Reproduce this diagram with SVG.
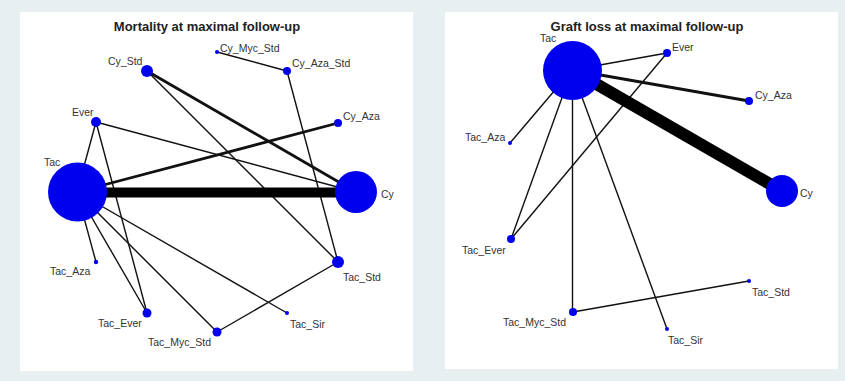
<svg xmlns="http://www.w3.org/2000/svg" width="845" height="381" viewBox="0 0 845 381">
  <style>
    .panel { fill: #ffffff; }
    .title { font-family: "Liberation Sans", Arial, sans-serif; font-size: 13px; font-weight: bold; fill: #222; text-anchor: middle; }
    .lbl { font-family: "Liberation Sans", Arial, sans-serif; font-size: 10.5px; fill: #333; }
    .node { fill: #0000ee; }
    .e { stroke: #111; fill: none; stroke-width: 1.4; }
    .e2 { stroke: #111; fill: none; stroke-width: 2.8; }
  </style>
  <rect width="845" height="381" fill="#e8eff1"/>

  <!-- Left network: mortality -->
  <rect class="panel" x="20" y="12" width="393" height="359"/>
  <text class="title" x="207" y="31">Mortality at maximal follow-up</text>
  <g id="mortality-edges">
    <line class="e" x1="96" y1="122" x2="77" y2="192"/>
    <line class="e" x1="96" y1="122" x2="356" y2="192"/>
    <line class="e" x1="96" y1="122" x2="147" y2="313"/>
    <line class="e2" x1="147" y1="71" x2="356" y2="192"/>
    <line class="e" x1="147" y1="71" x2="338" y2="262"/>
    <line class="e" x1="217" y1="52" x2="287" y2="71"/>
    <line class="e" x1="287" y1="71" x2="338" y2="262"/>
    <line class="e2" x1="77" y1="192" x2="338" y2="123"/>
    <line class="e" x1="77" y1="192" x2="96" y2="262"/>
    <line class="e" x1="77" y1="192" x2="147" y2="313"/>
    <line class="e" x1="77" y1="192" x2="217" y2="332"/>
    <line class="e" x1="77" y1="192" x2="287" y2="313"/>
    <line class="e" x1="217" y1="332" x2="338" y2="262"/>
    <line stroke="#000" stroke-width="10" x1="77" y1="192.5" x2="356" y2="192.5"/>
  </g>
  <g id="m-Tac"><circle class="node" cx="77.5" cy="192" r="29.5"/><text class="lbl" x="44" y="166">Tac</text></g>
  <g id="m-Cy"><circle class="node" cx="356" cy="192" r="21"/><text class="lbl" x="381" y="198">Cy</text></g>
  <g id="m-Cy_Std"><circle class="node" cx="147" cy="71" r="6"/><text class="lbl" x="108" y="65">Cy_Std</text></g>
  <g id="m-Cy_Myc_Std"><circle class="node" cx="217" cy="52" r="2"/><text class="lbl" x="220" y="52">Cy_Myc_Std</text></g>
  <g id="m-Cy_Aza_Std"><circle class="node" cx="287" cy="71" r="4"/><text class="lbl" x="292" y="67">Cy_Aza_Std</text></g>
  <g id="m-Cy_Aza"><circle class="node" cx="338" cy="123" r="4"/><text class="lbl" x="343" y="120">Cy_Aza</text></g>
  <g id="m-Ever"><circle class="node" cx="96" cy="122" r="5"/><text class="lbl" x="72" y="116">Ever</text></g>
  <g id="m-Tac_Aza"><circle class="node" cx="96" cy="262" r="2.2"/><text class="lbl" x="50" y="275">Tac_Aza</text></g>
  <g id="m-Tac_Std"><circle class="node" cx="338" cy="262" r="6"/><text class="lbl" x="343" y="281">Tac_Std</text></g>
  <g id="m-Tac_Ever"><circle class="node" cx="147" cy="313" r="4.5"/><text class="lbl" x="98" y="327">Tac_Ever</text></g>
  <g id="m-Tac_Myc_Std"><circle class="node" cx="217" cy="332" r="4.5"/><text class="lbl" x="148" y="346">Tac_Myc_Std</text></g>
  <g id="m-Tac_Sir"><circle class="node" cx="287" cy="313" r="2"/><text class="lbl" x="290" y="328">Tac_Sir</text></g>

  <!-- Right network: graft loss -->
  <rect class="panel" x="445" y="12" width="393" height="357"/>
  <text class="title" x="647" y="31">Graft loss at maximal follow-up</text>
  <g id="graft-edges">
    <line class="e" x1="572" y1="70" x2="667" y2="53"/>
    <line class="e2" x1="572" y1="70" x2="749" y2="101"/>
    <line class="e" x1="572" y1="70" x2="510" y2="143"/>
    <line class="e" x1="572" y1="70" x2="511" y2="239"/>
    <line class="e" x1="572.5" y1="70" x2="572.5" y2="312"/>
    <line class="e" x1="572" y1="70" x2="667" y2="329"/>
    <line class="e" x1="667" y1="53" x2="511" y2="239"/>
    <line class="e" x1="573" y1="312" x2="749" y2="281"/>
    <line stroke="#000" stroke-width="12" x1="572" y1="70" x2="782" y2="191"/>
  </g>
  <g id="g-Tac"><circle class="node" cx="572.5" cy="70.5" r="29.5"/><text class="lbl" x="540" y="42">Tac</text></g>
  <g id="g-Ever"><circle class="node" cx="667" cy="53" r="4"/><text class="lbl" x="672" y="51">Ever</text></g>
  <g id="g-Cy_Aza"><circle class="node" cx="749" cy="101" r="4"/><text class="lbl" x="755" y="99">Cy_Aza</text></g>
  <g id="g-Tac_Aza"><circle class="node" cx="510" cy="143" r="2"/><text class="lbl" x="465" y="141">Tac_Aza</text></g>
  <g id="g-Cy"><circle class="node" cx="782" cy="191" r="16"/><text class="lbl" x="800" y="197">Cy</text></g>
  <g id="g-Tac_Ever"><circle class="node" cx="511" cy="239" r="4"/><text class="lbl" x="462" y="254">Tac_Ever</text></g>
  <g id="g-Tac_Std"><circle class="node" cx="749" cy="281" r="2"/><text class="lbl" x="752" y="296">Tac_Std</text></g>
  <g id="g-Tac_Myc_Std"><circle class="node" cx="573" cy="312" r="4"/><text class="lbl" x="503" y="326">Tac_Myc_Std</text></g>
  <g id="g-Tac_Sir"><circle class="node" cx="667" cy="329" r="2"/><text class="lbl" x="668" y="344">Tac_Sir</text></g>
</svg>
